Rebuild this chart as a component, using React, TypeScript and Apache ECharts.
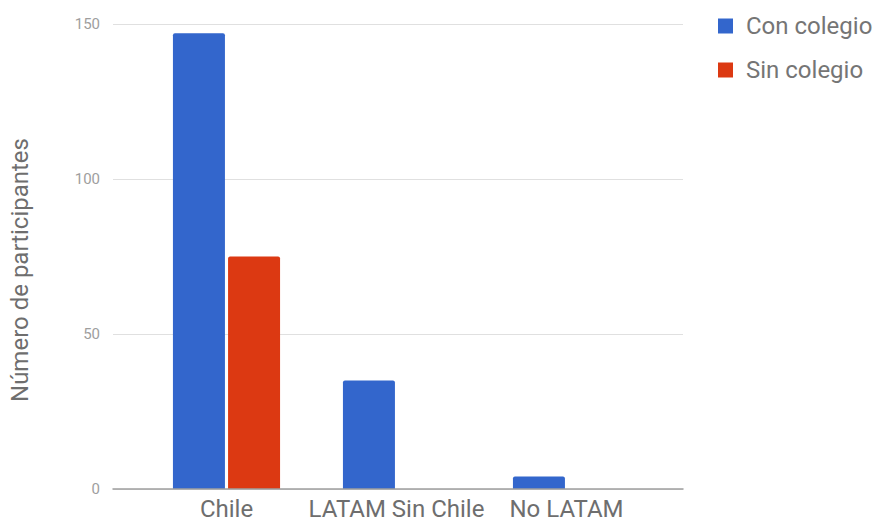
import React, { useEffect, useRef } from "react";
import * as echarts from "echarts";

const categories = ["Chile", "LATAM Sin Chile", "No LATAM"];
const conColegio = [147, 35, 4];
const sinColegio = [75, 0, 0];
const seriesNames = ["Con colegio", "Sin colegio"];
const yTicks = { min: 0, max: 150, interval: 50 };
const yTitle = "Número de participantes";

const FONT = "Roboto, Arial, sans-serif";

export default function App() {
  const ref = useRef<HTMLDivElement>(null);

  useEffect(() => {
    document.body.style.margin = "0";
    if (!ref.current) return;
    const chart = echarts.init(ref.current, undefined, { renderer: "svg" });
    chart.setOption({
      animation: false,
      backgroundColor: "#ffffff",
      textStyle: { fontFamily: FONT },
      color: ["#3366cc", "#dc3912"],
      legend: {
        orient: "vertical",
        left: 713,
        top: 9,
        itemWidth: 15,
        itemHeight: 15,
        itemGap: 20,
        icon: "rect",
        data: seriesNames,
        textStyle: {
          fontSize: 24,
          color: "#757575",
          fontFamily: FONT,
          padding: [0, 0, 0, 8],
        },
      },
      graphic: [
        {
          type: "text",
          x: 20,
          y: 270,
          rotation: Math.PI / 2,
          style: {
            text: yTitle,
            fill: "#6e6e6e",
            font: `24px ${FONT}`,
            align: "center",
            verticalAlign: "middle",
          },
        },
      ],
      grid: [
        // frame: gridlines, y labels and baseline
        { left: 113, right: 196, top: 24, bottom: 34 },
        // bar area
        { left: 141.5, right: 227.5, top: 24, bottom: 34 },
      ],
      xAxis: [
        {
          gridIndex: 0,
          type: "value",
          min: 0,
          max: 1,
          axisLine: { show: true, lineStyle: { color: "#9e9e9e", width: 1.5 } },
          axisTick: { show: false },
          axisLabel: { show: false },
          splitLine: { show: false },
          z: 5,
        },
        {
          gridIndex: 1,
          type: "category",
          data: categories,
          axisLine: { show: false },
          axisTick: { show: false },
          axisLabel: {
            color: "#6e6e6e",
            fontSize: 24,
            margin: 8,
            interval: 0,
            fontFamily: FONT,
          },
        },
      ],
      yAxis: [
        {
          gridIndex: 0,
          type: "value",
          min: yTicks.min,
          max: yTicks.max,
          interval: yTicks.interval,
          axisLine: { show: false },
          axisTick: { show: false },
          axisLabel: { color: "#9e9e9e", fontSize: 15, margin: 13, fontFamily: FONT },
          splitLine: { lineStyle: { color: "#e0e0e0", width: 1 } },
        },
        {
          gridIndex: 1,
          type: "value",
          min: yTicks.min,
          max: yTicks.max,
          show: false,
        },
      ],
      series: [
        {
          name: seriesNames[0],
          type: "bar",
          xAxisIndex: 1,
          yAxisIndex: 1,
          data: conColegio,
          barWidth: 52,
          barGap: "6%",
          itemStyle: { borderRadius: [2, 2, 0, 0] },
        },
        {
          name: seriesNames[1],
          type: "bar",
          xAxisIndex: 1,
          yAxisIndex: 1,
          data: sinColegio,
          barWidth: 52,
          barGap: "6%",
          itemStyle: { borderRadius: [2, 2, 0, 0] },
        },
      ],
    });
    return () => chart.dispose();
  }, []);

  return <div ref={ref} style={{ width: 879, height: 523 }} />;
}
